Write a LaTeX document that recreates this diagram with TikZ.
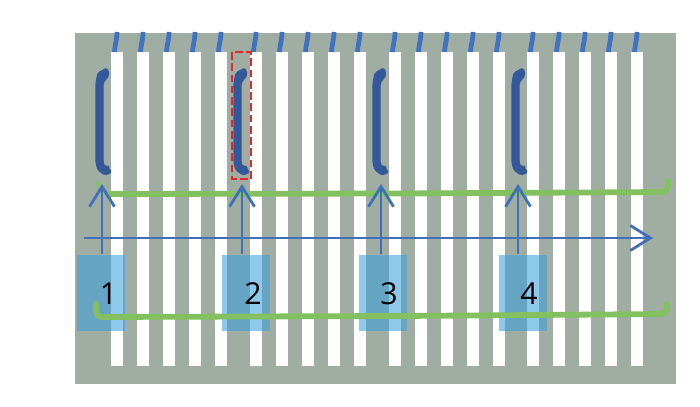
\documentclass[tikz,border=0pt]{standalone}
\usepackage{fontspec}
\setmainfont{Open Sans}
\usetikzlibrary{arrows.meta}
\definecolor{plateFill}{HTML}{A0ADA3}
\definecolor{tickStroke}{HTML}{3F72BF}
\definecolor{clipFill}{HTML}{34599A}
\definecolor{arrowStroke}{HTML}{4070B8}
\definecolor{wireStroke}{HTML}{82C060}
\definecolor{padFill}{HTML}{379DDD}
\definecolor{markStroke}{HTML}{E8262A}

\begin{document}
\begin{tikzpicture}[
  x=0.01cm,y=-0.01cm,
  plate/.style={fill=plateFill,draw=none},
  slot/.style={fill=white,draw=none},
  tick/.style={draw=tickStroke,line width=1.35pt},
  clipshape/.style={fill=clipFill,draw=clipFill,line width=.35pt,rounded corners=.5pt},
  wire/.style={draw=wireStroke,line width=1.65pt,rounded corners=1.6pt,line cap=round},
  flow/.style={draw=arrowStroke,line width=.8pt,-{Straight Barb[length=2mm,width=2.5mm,line width=.8pt]}},
  pad/.style={rectangle,fill=padFill,fill opacity=.56,draw=none,inner sep=0pt,anchor=north west,minimum width=.48cm,minimum height=.76cm},
  num/.style={font=\fontsize{8.6}{10}\selectfont,text=black,inner sep=0pt},
  redbox/.style={draw=markStroke,line width=.75pt,dash pattern=on 2.2pt off 1pt}
]
\useasboundingbox (0,0) rectangle (700,406);
% Plate and its slots, in four groups of five.
\fill[plate] (75,33) rectangle (676,384);
\foreach \x in {111,137,163,189,215,250,276,302,328,354,389,415,441,467,493,527,553,579,605,631}{
  \fill[slot] (\x,52) rectangle ++(11.5,314);
  \draw[tick] (\x+3.5,52) .. controls (\x+4,44) and (\x+6,40) .. (\x+6,32);
}
% Clips above the wire.
\foreach \x in {96,234,373,512}{
  \fill[clipshape] (\x+11,68) -- (\x+13,75) -- (\x+7,83) -- (\x+7,163) -- (\x+9,167) -- (\x+13,166)
    -- (\x+12,169) -- (\x+16,172) -- (\x+9,175) -- (\x+2,170) -- (\x,163) -- (\x,83) -- (\x+2,73) -- cycle;
}
\draw[redbox] (232,52) rectangle (251,179);
% Upper wire.
\fill[wireStroke] (96,181) -- (102,183) -- (97,190) -- cycle;
\draw[wire] (109,194) -- (400,193.5) -- (668,192) -- (668,181);
% Pads, lower wire and numbers, then the flow arrows.
\node[pad] (pad1) at (76.5,254) {};
\node[pad] (pad2) at (221,254) {};
\node[pad] (pad3) at (358,254) {};
\node[pad] (pad4) at (498,254) {};
\draw[wire] (96,304) -- (96,317) -- (400,316) -- (667,314) -- (667,304);
\node[num] (num1) at (108.5,294) {1};
\node[num] (num2) at (253,294) {2};
\node[num] (num3) at (389,294) {3};
\node[num] (num4) at (529,294) {4};
\coordinate (flowStart) at (84,238);
\coordinate (flowEnd) at (653,238);
\coordinate (tip1) at (102,184);
\coordinate (tip2) at (242,184);
\coordinate (tip3) at (381,184);
\coordinate (tip4) at (518,184);
\draw[flow] (flowStart) -- (flowEnd);
\draw[flow] (pad1.north west -| tip1) -- (tip1);
\draw[flow] (pad2.north west -| tip2) -- (tip2);
\draw[flow] (pad3.north west -| tip3) -- (tip3);
\draw[flow] (pad4.north west -| tip4) -- (tip4);
\end{tikzpicture}
\end{document}
